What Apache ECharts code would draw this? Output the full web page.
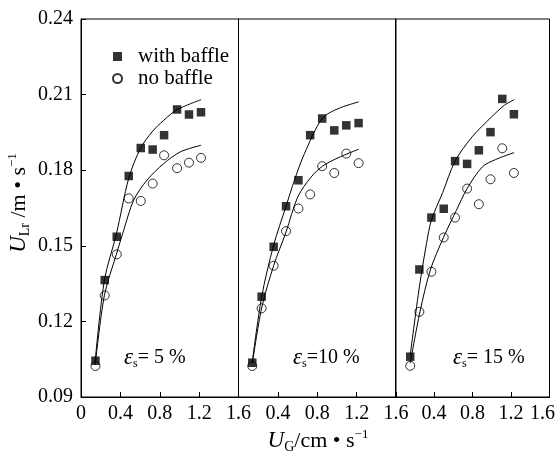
<!DOCTYPE html>
<html>
<head>
<meta charset="utf-8">
<script src="https://cdn.jsdelivr.net/npm/echarts@6/dist/echarts.min.js"></script>
<style>
  html, body { margin: 0; background: #fff; }
  #chart { width: 558px; height: 453px; }
</style>
</head>
<body>
<div id="chart"></div>
<script>
// 三个子图：εs = 5%, 10%, 15%
var panelNames = ["5", "10", "15"];

// 横坐标 UG (cm/s)
var ug5 = [0.147, 0.241, 0.363, 0.485, 0.607, 0.728, 0.844, 0.976, 1.097, 1.219];
var ug10 = [0.14, 0.235, 0.357, 0.483, 0.609, 0.728, 0.85, 0.973, 1.095, 1.22];
var ug15 = [0.153, 0.248, 0.373, 0.501, 0.619, 0.744, 0.866, 0.987, 1.109, 1.23];

// with baffle（实心方块）
var withBaffle5 = [0.1044, 0.1364, 0.1536, 0.1777, 0.1888, 0.1882, 0.1939, 0.2041, 0.2021, 0.2030];
var withBaffle10 = [0.1036, 0.1298, 0.1496, 0.1657, 0.176, 0.1939, 0.2005, 0.1958, 0.1978, 0.1987];
var withBaffle15 = [0.106, 0.1406, 0.1612, 0.1647, 0.1836, 0.1825, 0.1879, 0.1951, 0.2083, 0.2022];

// no baffle（空心圆）
var noBaffle5 = [0.1023, 0.1303, 0.1466, 0.1688, 0.1678, 0.1747, 0.1859, 0.1808, 0.1830, 0.1849];
var noBaffle10 = [0.1023, 0.1252, 0.1421, 0.1558, 0.1648, 0.1704, 0.1816, 0.1789, 0.1866, 0.1828];
var noBaffle15 = [0.1024, 0.1238, 0.1397, 0.1533, 0.1612, 0.1727, 0.1665, 0.1764, 0.1887, 0.1789];

// 拟合曲线 [UG, ULr]
var fitWith5 = [[0.144, 0.1043], [0.238, 0.1364], [0.36, 0.1548], [0.485, 0.1768], [0.603, 0.1886], [0.722, 0.1952], [0.84, 0.1998], [0.976, 0.204], [1.22, 0.208]];
var fitNo5 = [[0.144, 0.1027], [0.238, 0.1304], [0.36, 0.1467], [0.434, 0.1562], [0.535, 0.1681], [0.671, 0.1761], [0.84, 0.1826], [1.01, 0.1873], [1.22, 0.1899]];
var fitWith10 = [[0.14, 0.1039], [0.235, 0.1297], [0.357, 0.1503], [0.483, 0.1657], [0.568, 0.176], [0.67, 0.1866], [0.85, 0.2005], [1.01, 0.2044], [1.22, 0.2071]];
var fitNo10 = [[0.14, 0.1031], [0.235, 0.1253], [0.357, 0.1421], [0.483, 0.1555], [0.602, 0.1694], [0.738, 0.1773], [0.854, 0.1816], [1.01, 0.1849], [1.22, 0.1883]];
var fitWith15 = [[0.153, 0.1067], [0.248, 0.1337], [0.322, 0.1509], [0.373, 0.1602], [0.491, 0.1712], [0.619, 0.1836], [0.795, 0.1932], [0.997, 0.2011], [1.132, 0.2058], [1.233, 0.208]];
var fitNo15 = [[0.153, 0.1034], [0.254, 0.1238], [0.362, 0.1404], [0.497, 0.1532], [0.633, 0.1641], [0.744, 0.1727], [0.902, 0.1813], [1.038, 0.1842], [1.233, 0.187]];

// 坐标轴刻度
var xTicks = [0, 0.4, 0.8, 1.2, 1.6];
var yTicks = [0.09, 0.12, 0.15, 0.18, 0.21, 0.24];

(function () {
  var myChart = echarts.init(document.getElementById("chart"));
  var FONT = "Liberation Serif";

  var ugs = [ug5, ug10, ug15];
  var withs = [withBaffle5, withBaffle10, withBaffle15];
  var nos = [noBaffle5, noBaffle10, noBaffle15];
  var fitsWith = [fitWith5, fitWith10, fitWith15];
  var fitsNo = [fitNo5, fitNo10, fitNo15];
  var lefts = [81, 238.5, 395.5];

  function pairs(xs, ys) {
    return xs.map(function (x, k) { return [x, ys[k]]; });
  }

  var grid = [], xAxis = [], yAxis = [], series = [];
  for (var i = 0; i < 3; i++) {
    grid.push({
      left: lefts[i], top: 19, width: 157.5, height: 378,
      show: true, borderColor: "#000", borderWidth: 1
    });
    xAxis.push({
      type: "value", gridIndex: i,
      min: xTicks[0], max: xTicks[xTicks.length - 1], interval: 0.4,
      axisLine: { show: true, onZero: false, lineStyle: { color: "#000" } },
      axisTick: { inside: true, length: 5, lineStyle: { color: "#000" } },
      splitLine: { show: false },
      axisLabel: {
        color: "#000", fontFamily: FONT, fontSize: 20, margin: 7,
        rich: { r: { fontFamily: FONT, fontSize: 20, color: "#000", padding: [0, 14, 0, 0] } },
        formatter: (function (idx) {
          return function (v) {
            if (v === 0 && idx > 0) return "";
            var s = String(+v.toFixed(1));
            // 最右端的 1.6 往左挪一点，避免被裁掉
            if (idx === 2 && v === xTicks[xTicks.length - 1]) return "{r|" + s + "}";
            return s;
          };
        })(i)
      }
    });
    yAxis.push({
      type: "value", gridIndex: i,
      min: yTicks[0], max: yTicks[yTicks.length - 1], interval: 0.03,
      axisLine: { show: true, lineStyle: { color: "#000" } },
      axisTick: { show: i === 0, inside: true, length: 5, lineStyle: { color: "#000" } },
      splitLine: { show: false },
      axisLabel: {
        show: i === 0, color: "#000", fontFamily: FONT, fontSize: 20, margin: 8,
        formatter: function (v) { return v.toFixed(2); }
      }
    });

    // 拟合曲线
    series.push({
      name: "fit with", type: "line", xAxisIndex: i, yAxisIndex: i,
      data: fitsWith[i], smooth: 0.3, symbol: "none",
      lineStyle: { color: "#000", width: 1 }, silent: true
    });
    series.push({
      name: "fit no", type: "line", xAxisIndex: i, yAxisIndex: i,
      data: fitsNo[i], smooth: 0.3, symbol: "none",
      lineStyle: { color: "#000", width: 1 }, silent: true
    });
    // 实验点
    series.push({
      name: "no baffle", type: "scatter", xAxisIndex: i, yAxisIndex: i,
      data: pairs(ugs[i], nos[i]), symbol: "circle", symbolSize: 9,
      itemStyle: { color: "rgba(255,255,255,0)", borderColor: "#000", borderWidth: 1 }
    });
    series.push({
      name: "with baffle", type: "scatter", xAxisIndex: i, yAxisIndex: i,
      data: pairs(ugs[i], withs[i]), symbol: "rect", symbolSize: 8.5,
      itemStyle: { color: "#000" }
    });
  }

  var subRich = {
    e: { fontFamily: FONT, fontStyle: "italic", fontSize: 23, lineHeight: 24, color: "#000" },
    s: { fontFamily: FONT, fontSize: 12, lineHeight: 12, verticalAlign: "bottom", color: "#000" },
    n: { fontFamily: FONT, fontSize: 20, lineHeight: 24, color: "#000" }
  };
  var annLefts = [124, 293, 453];
  var graphic = panelNames.map(function (p, k) {
    var num = k === 1 ? "=" + p + " %" : "= " + p + " %";
    return {
      type: "text", left: annLefts[k], top: 346,
      style: { text: "{e|ε}{s|s}{n|" + num + "}", rich: subRich }
    };
  });

  var titleRich = {
    i: { fontFamily: FONT, fontStyle: "italic", fontSize: 23, lineHeight: 26, color: "#000" },
    sub: { fontFamily: FONT, fontSize: 14, lineHeight: 13, verticalAlign: "bottom", color: "#000" },
    n: { fontFamily: FONT, fontSize: 22, lineHeight: 26, color: "#000" },
    sup: { fontFamily: FONT, fontSize: 13, lineHeight: 13, verticalAlign: "top", color: "#000" }
  };
  graphic.push({
    type: "text", x: 19, y: 203, rotation: Math.PI / 2,
    style: { text: "{i|U}{sub|Lr}{n| /m • s}{sup|−1}", rich: titleRich, align: "center", verticalAlign: "middle" }
  });
  graphic.push({
    type: "text", x: 318, y: 441,
    style: { text: "{i|U}{sub|G}{n|/cm • s}{sup|−1}", rich: titleRich, align: "center", verticalAlign: "middle" }
  });

  var option = {
    animation: false,
    backgroundColor: "#fff",
    legend: {
      data: [{ name: "with baffle", icon: "rect" }, { name: "no baffle", icon: "circle" }],
      orient: "vertical", left: 107, top: 41,
      itemWidth: 9, itemHeight: 9, itemGap: 1,
      selectedMode: false,
      textStyle: { fontFamily: FONT, fontSize: 21, color: "#000", lineHeight: 19, padding: [0, 0, 0, 11] }
    },
    grid: grid,
    xAxis: xAxis,
    yAxis: yAxis,
    series: series,
    graphic: graphic
  };

  myChart.setOption(option);
  window.addEventListener("resize", function () {
    myChart.resize();
  });
})();
</script>
</body>
</html>
